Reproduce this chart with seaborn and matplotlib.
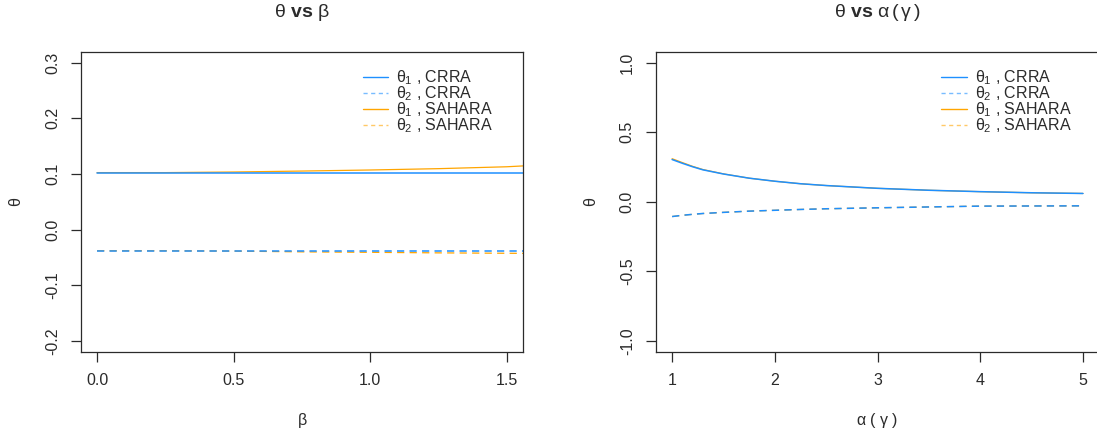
import numpy as np
import pandas as pd
import seaborn as sns
import matplotlib
matplotlib.use("Agg")
import matplotlib.pyplot as plt

# ---------------- data ----------------
beta = [0.0, 0.25, 0.5, 0.75, 1.0, 1.25, 1.5, 1.57]
theta1_crra_beta = [0.1025, 0.1025, 0.1025, 0.1025, 0.1025, 0.1025, 0.1025, 0.1025]
theta2_crra_beta = [-0.038, -0.038, -0.038, -0.038, -0.038, -0.038, -0.038, -0.038]
theta1_sahara_beta = [0.1025, 0.1025, 0.1036, 0.1053, 0.1072, 0.1096, 0.1130, 0.1148]
theta2_sahara_beta = [-0.038, -0.038, -0.0386, -0.0400, -0.0408, -0.0418, -0.0425, -0.0427]

alpha = [1.0, 1.1, 1.2, 1.3, 1.5, 1.75, 2.0, 2.25, 2.5, 3.0, 3.5, 4.0, 4.5, 5.0]
theta1_crra_alpha = [0.304, 0.277, 0.252, 0.230, 0.200, 0.170, 0.148, 0.130, 0.117,
                     0.097, 0.083, 0.073, 0.065, 0.060]
theta2_crra_alpha = [-0.106, -0.097, -0.090, -0.084, -0.076, -0.067, -0.061, -0.055,
                     -0.050, -0.043, -0.037, -0.031, -0.030, -0.029]
theta1_sahara_alpha = [0.310, 0.282, 0.255, 0.232, 0.201, 0.170, 0.148, 0.130, 0.117,
                       0.097, 0.083, 0.073, 0.065, 0.060]
theta2_sahara_alpha = [-0.106, -0.097, -0.090, -0.084, -0.076, -0.067, -0.061, -0.055,
                       -0.050, -0.043, -0.037, -0.031, -0.030, -0.029]

left_xticks = [0.0, 0.5, 1.0, 1.5]
left_xticklabels = ["0.0", "0.5", "1.0", "1.5"]
left_yticks = [-0.2, -0.1, 0.0, 0.1, 0.2, 0.3]
left_yticklabels = ["-0.2", "-0.1", "0.0", "0.1", "0.2", "0.3"]
right_xticks = [1, 2, 3, 4, 5]
right_xticklabels = ["1", "2", "3", "4", "5"]
right_yticks = [-1.0, -0.5, 0.0, 0.5, 1.0]
right_yticklabels = ["-1.0", "-0.5", "0.0", "0.5", "1.0"]

series_labels = [r"$\theta_1$ , CRRA", r"$\theta_2$ , CRRA",
                 r"$\theta_1$ , SAHARA", r"$\theta_2$ , SAHARA"]

BLUE = "#1E90FF"
ORANGE = "#FFA500"
INK = "#2b2b2b"

# ---------------- style ----------------
sns.set_style("ticks")
plt.rcParams["font.family"] = ["Liberation Sans", "DejaVu Sans"]
plt.rcParams["mathtext.fontset"] = "custom"
plt.rcParams["mathtext.rm"] = "Liberation Sans"
plt.rcParams["mathtext.it"] = "Liberation Sans"
plt.rcParams["mathtext.bf"] = "Liberation Sans:bold"
plt.rcParams["axes.unicode_minus"] = False
plt.rcParams["lines.scale_dashes"] = False
plt.rcParams["lines.dashed_pattern"] = [5.2, 3.8]

fig = plt.figure(figsize=(10.97, 4.34), dpi=100)
ax1 = fig.add_axes([0.0736, 0.189, 0.4032, 0.692])
ax2 = fig.add_axes([0.5977, 0.189, 0.4045, 0.692])


def draw(ax, x, t1c, t2c, t1s, t2s):
    # SAHARA first so CRRA lies on top
    sns.lineplot(x=x, y=t1s, ax=ax, color=ORANGE, lw=0.9, estimator=None, sort=False)
    sns.lineplot(x=x, y=t2s, ax=ax, color=ORANGE, lw=0.9, linestyle="--",
                 estimator=None, sort=False)
    sns.lineplot(x=x, y=t1c, ax=ax, color=BLUE, lw=1.1, estimator=None, sort=False)
    sns.lineplot(x=x, y=t2c, ax=ax, color=BLUE, lw=1.1, linestyle="--",
                 estimator=None, sort=False)
    h = [
        plt.Line2D([], [], color=BLUE, lw=1.0),
        plt.Line2D([], [], color=BLUE, lw=1.0, linestyle=(0, (3, 2.5)), alpha=0.6),
        plt.Line2D([], [], color=ORANGE, lw=1.0),
        plt.Line2D([], [], color=ORANGE, lw=1.0, linestyle=(0, (3, 2.5)), alpha=0.6),
    ]
    return h


h = draw(ax1, beta, theta1_crra_beta, theta2_crra_beta, theta1_sahara_beta, theta2_sahara_beta)
draw(ax2, alpha, theta1_crra_alpha, theta2_crra_alpha, theta1_sahara_alpha, theta2_sahara_alpha)

ax1.set_xlim(-0.06, 1.56)
ax1.set_ylim(-0.22, 0.32)
ax2.set_xlim(0.84, 5.16)
ax2.set_ylim(-1.08, 1.08)

ax1.set_xticks(left_xticks, left_xticklabels)
ax1.set_yticks(left_yticks, left_yticklabels)
ax2.set_xticks(right_xticks, right_xticklabels)
ax2.set_yticks(right_yticks, right_yticklabels)

for ax, legx in ((ax1, 0.638), (ax2, 0.643)):
    for s in ax.spines.values():
        s.set_visible(True)
        s.set_color(INK)
        s.set_linewidth(0.9)
    ax.tick_params(axis="both", length=7, width=0.9, color=INK, labelcolor=INK,
                   labelsize=11.5, pad=8)
    for lab in ax.get_yticklabels():
        lab.set_rotation(90)
        lab.set_va("center")
    ax.set_ylabel(r"$\theta$", fontsize=11.5, color=INK)
    ax.yaxis.set_label_coords(-0.128, 0.5)
    leg = ax.legend(h, series_labels, loc="upper left", bbox_to_anchor=(legx, 0.945),
                    frameon=False, fontsize=11.5, handlelength=1.6, handletextpad=0.5,
                    labelspacing=-0.17, borderpad=0, borderaxespad=0)
    for t in leg.get_texts():
        t.set_color(INK)

ax1.set_xlabel(r"$\beta$", fontsize=11.5, color=INK)
ax2.set_xlabel(r"$\alpha\ (\ \gamma\ )$", fontsize=11.5, color=INK)
ax1.xaxis.set_label_coords(0.5, -0.195)
ax2.xaxis.set_label_coords(0.5, -0.195)

fig.text(0.2752, 0.972, r"$\theta\ \mathbf{vs}\ \beta$", ha="center", va="center",
         fontsize=14, color=INK)
fig.text(0.7993, 0.972, r"$\theta\ \mathbf{vs}\ \alpha\,(\,\gamma\,)$", ha="center",
         va="center", fontsize=14, color=INK)

fig.savefig("out.png", dpi=100)
